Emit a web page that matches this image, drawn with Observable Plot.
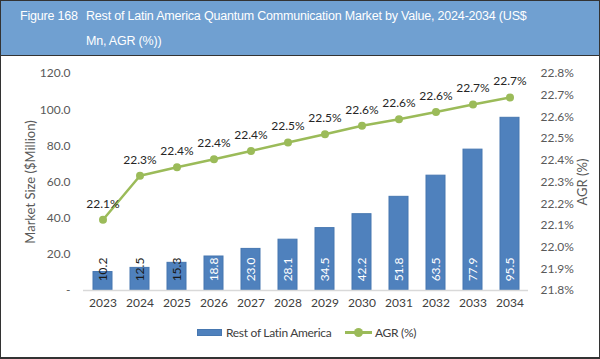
<!DOCTYPE html>
<html>
<head>
<meta charset="utf-8">
<script src="https://cdn.jsdelivr.net/npm/d3@7"></script>
<script src="https://cdn.jsdelivr.net/npm/@observablehq/plot@0.6"></script>
<style>
  html, body { margin: 0; padding: 0; background: #fff; }
  #frame { position: relative; width: 600px; height: 359px; box-sizing: border-box; border: 1px solid #333; border-bottom-width: 2px; overflow: hidden; background: #fff; }
  #header { position: absolute; left: 0; top: 0; width: 598px; height: 54px; background: #70a0d1; border-bottom: 1px solid #333; color: #fff; font-family: "Liberation Sans", Arial, sans-serif; font-size: 12.5px; letter-spacing: -0.2px; }
  #fig { position: absolute; left: 19px; top: 3px; line-height: 25px; }
  #ttl { position: absolute; left: 85px; top: 3px; width: 445px; line-height: 25px; }
  #chart { position: absolute; left: 0; top: 55px; }
  #legend { position: absolute; left: 0; top: 322px; width: 598px; height: 18px; font-family: Lato, "Open Sans", sans-serif; font-size: 12px; letter-spacing: -0.3px; color: #404040; }
  .item { position: absolute; top: 0; display: flex; align-items: center; height: 18px; }
  .sw-bar { width: 25px; height: 7px; background: #4f81bd; border: 1px solid #4677b0; box-sizing: border-box; margin-right: 4px; }
  .sw-line { position: relative; width: 27px; height: 3px; background: #9bbb59; margin-right: 3px; }
  .sw-line span { position: absolute; left: 9px; top: -3px; width: 9px; height: 9px; border-radius: 50%; background: #9bbb59; }
</style>
</head>
<body>
<div id="frame">
  <div id="header">
    <div id="fig">Figure 168</div>
    <div id="ttl">Rest of Latin America Quantum Communication Market by Value, 2024-2034 (US$ Mn, AGR (%))</div>
  </div>
  <div id="chart"></div>
  <div id="legend">
    <div class="item" style="left:196px"><div class="sw-bar"></div><span>Rest of Latin America</span></div>
    <div class="item" style="left:344px"><div class="sw-line"><span></span></div><span>AGR (%)</span></div>
  </div>
</div>
<script>
const years = ["2023","2024","2025","2026","2027","2028","2029","2030","2031","2032","2033","2034"];
const marketSize = [10.2, 12.5, 15.3, 18.8, 23.0, 28.1, 34.5, 42.2, 51.8, 63.5, 77.9, 95.5];
const agr = [22.126, 22.329, 22.368, 22.405, 22.443, 22.482, 22.52, 22.559, 22.589, 22.623, 22.657, 22.689];
const leftTicks = [0, 20, 40, 60, 80, 100, 120];
const agrTicks = [21.8, 21.9, 22.0, 22.1, 22.2, 22.3, 22.4, 22.5, 22.6, 22.7, 22.8];
const leftTitle = "Market Size ($Million)";
const rightTitle = "AGR (%)";

const data = years.map((year, i) => ({year, value: marketSize[i], agr: agr[i]}));
const agrToY = d3.scaleLinear([21.8, 22.8], [0, 120]);

const chart = Plot.plot({
  width: 598,
  height: 262,
  marginLeft: 82,
  marginRight: 71,
  marginTop: 17,
  marginBottom: 28,
  style: {fontFamily: "Lato, 'Open Sans', sans-serif", fontSize: "12px", color: "#404040", background: "white"},
  x: {domain: years, paddingInner: 0.5, paddingOuter: 0.25, axis: null, label: null},
  y: {domain: [0, 120], axis: null, label: null},
  marks: [
    Plot.axisX({tickSize: 0, tickPadding: 8, fontSize: 12, fill: "#404040", label: null}),
    Plot.axisY(leftTicks, {anchor: "left", tickSize: 0, tickPadding: 13, fill: "#595959", label: null,
      tickFormat: d => d === 0 ? "-" : d.toFixed(1)}),
    Plot.axisY(agrTicks.map(t => agrToY(t)), {anchor: "right", tickSize: 0, tickPadding: 12, fill: "#595959", label: null,
      tickFormat: v => agrToY.invert(v).toFixed(1) + "%"}),
    Plot.barY(data, {x: "year", y: "value", fill: "#4f81bd", stroke: "#4677b0", strokeWidth: 1}),
    Plot.ruleY([0], {stroke: "#d9d9d9", strokeWidth: 1.5}),
    Plot.text(data, {x: "year", y: () => 0, dy: -21, rotate: -90, textAnchor: "middle",
      text: d => d.value.toFixed(1), fontSize: 12,
      fill: d => d.value < 17 ? "#1a1a1a" : "#ffffff"}),
    Plot.line(data, {x: "year", y: d => agrToY(d.agr), stroke: "#9bbb59", strokeWidth: 2.5}),
    Plot.dot(data, {x: "year", y: d => agrToY(d.agr), r: 4, fill: "#9bbb59"}),
    Plot.text(data, {x: "year", y: d => agrToY(d.agr), dy: -16, text: d => d.agr.toFixed(1) + "%",
      fontSize: 12, fill: "#262626"}),
    Plot.text([leftTitle], {frameAnchor: "left", dx: -53, rotate: -90, textAnchor: "middle",
      fontSize: 13, fill: "#595959"}),
    Plot.text([rightTitle], {frameAnchor: "right", dx: 54, rotate: -90, textAnchor: "middle",
      fontSize: 13, fill: "#595959"})
  ]
});
document.getElementById("chart").appendChild(chart);
</script>
</body>
</html>
